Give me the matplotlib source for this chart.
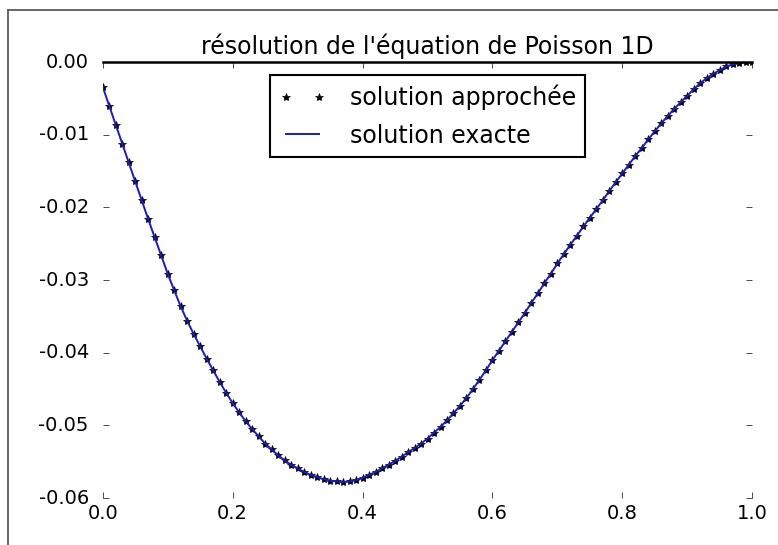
import numpy as np
import matplotlib
matplotlib.use('Agg')
import matplotlib.pyplot as plt
from matplotlib.lines import Line2D

plt.style.use('classic')
plt.rcParams['axes.unicode_minus'] = False

# grille des points (pas 0.01)
x = np.linspace(0.0, 1.0, 101)

# solution
u_exacte = [-0.0034, -0.0060, -0.0086, -0.0112, -0.0138, -0.0164,
            -0.0190, -0.0216, -0.0241, -0.0266, -0.0291,
            -0.0314, -0.0336, -0.0356, -0.0374, -0.0391,
            -0.0408, -0.0424, -0.0440, -0.0455, -0.0469,
            -0.0482, -0.0494, -0.0505, -0.0515, -0.0525,
            -0.0533, -0.0541, -0.0548, -0.0554, -0.0559,
            -0.0564, -0.0568, -0.0571, -0.0574, -0.0576,
            -0.0577, -0.0578, -0.0577, -0.0575, -0.0572,
            -0.0568, -0.0564, -0.0559, -0.0554, -0.0549,
            -0.0543, -0.0537, -0.0531, -0.0525, -0.0518,
            -0.0510, -0.0502, -0.0493, -0.0483, -0.0473,
            -0.0462, -0.0450, -0.0437, -0.0424, -0.0410,
            -0.0397, -0.0384, -0.0371, -0.0358, -0.0345,
            -0.0331, -0.0318, -0.0304, -0.0291, -0.0277,
            -0.0264, -0.0251, -0.0239, -0.0226, -0.0214,
            -0.0202, -0.0190, -0.0177, -0.0165, -0.0153,
            -0.0141, -0.0129, -0.0118, -0.0106, -0.0095,
            -0.0084, -0.0074, -0.0064, -0.0055, -0.0046,
            -0.0037, -0.0029, -0.0022, -0.0016, -0.0011,
            -0.0006, -0.0003, -0.0001, -0.0000, 0.0000]
# la solution approchee est confondue avec l'exacte a l'oeil
u_approchee = list(u_exacte)

fig = plt.figure(figsize=(7.78, 5.45), dpi=100, facecolor='white')
ax = fig.add_axes([0.132, 0.086, 0.835, 0.80])
ax.set_facecolor('white')

ax.plot(x, u_approchee, 'k*', markersize=6, label='solution approchée')
ax.plot(x, u_exacte, '-', color='#1a1acc', lw=1.4, label='solution exacte')

ax.set_xlim(0.0, 1.0)
ax.set_ylim(-0.06, 0.0)
ax.set_xticks([0.0, 0.2, 0.4, 0.6, 0.8, 1.0])
ax.set_yticks([-0.06, -0.05, -0.04, -0.03, -0.02, -0.01, 0.0])
ax.tick_params(labelsize=14)
ax.tick_params(axis='y', pad=10)
ax.set_title("résolution de l'équation de Poisson 1D", fontsize=17, pad=6)

for s in ['left', 'right', 'bottom']:
    ax.spines[s].set_visible(False)
ax.spines['top'].set_linewidth(1.8)

leg = ax.legend(loc='upper center', numpoints=2, fontsize=17, labelspacing=0.58,
                borderaxespad=0.55, handletextpad=1.0)
leg.get_frame().set_linewidth(1.5)

# cadre de la capture
fig.add_artist(Line2D([8/778, 8/778], [0, 1-10/545], transform=fig.transFigure, color='0.3', lw=1.2))
fig.add_artist(Line2D([8/778, 1], [1-10/545, 1-10/545], transform=fig.transFigure, color='0.3', lw=1.2))

fig.savefig('out.png', dpi=100, facecolor='white')
